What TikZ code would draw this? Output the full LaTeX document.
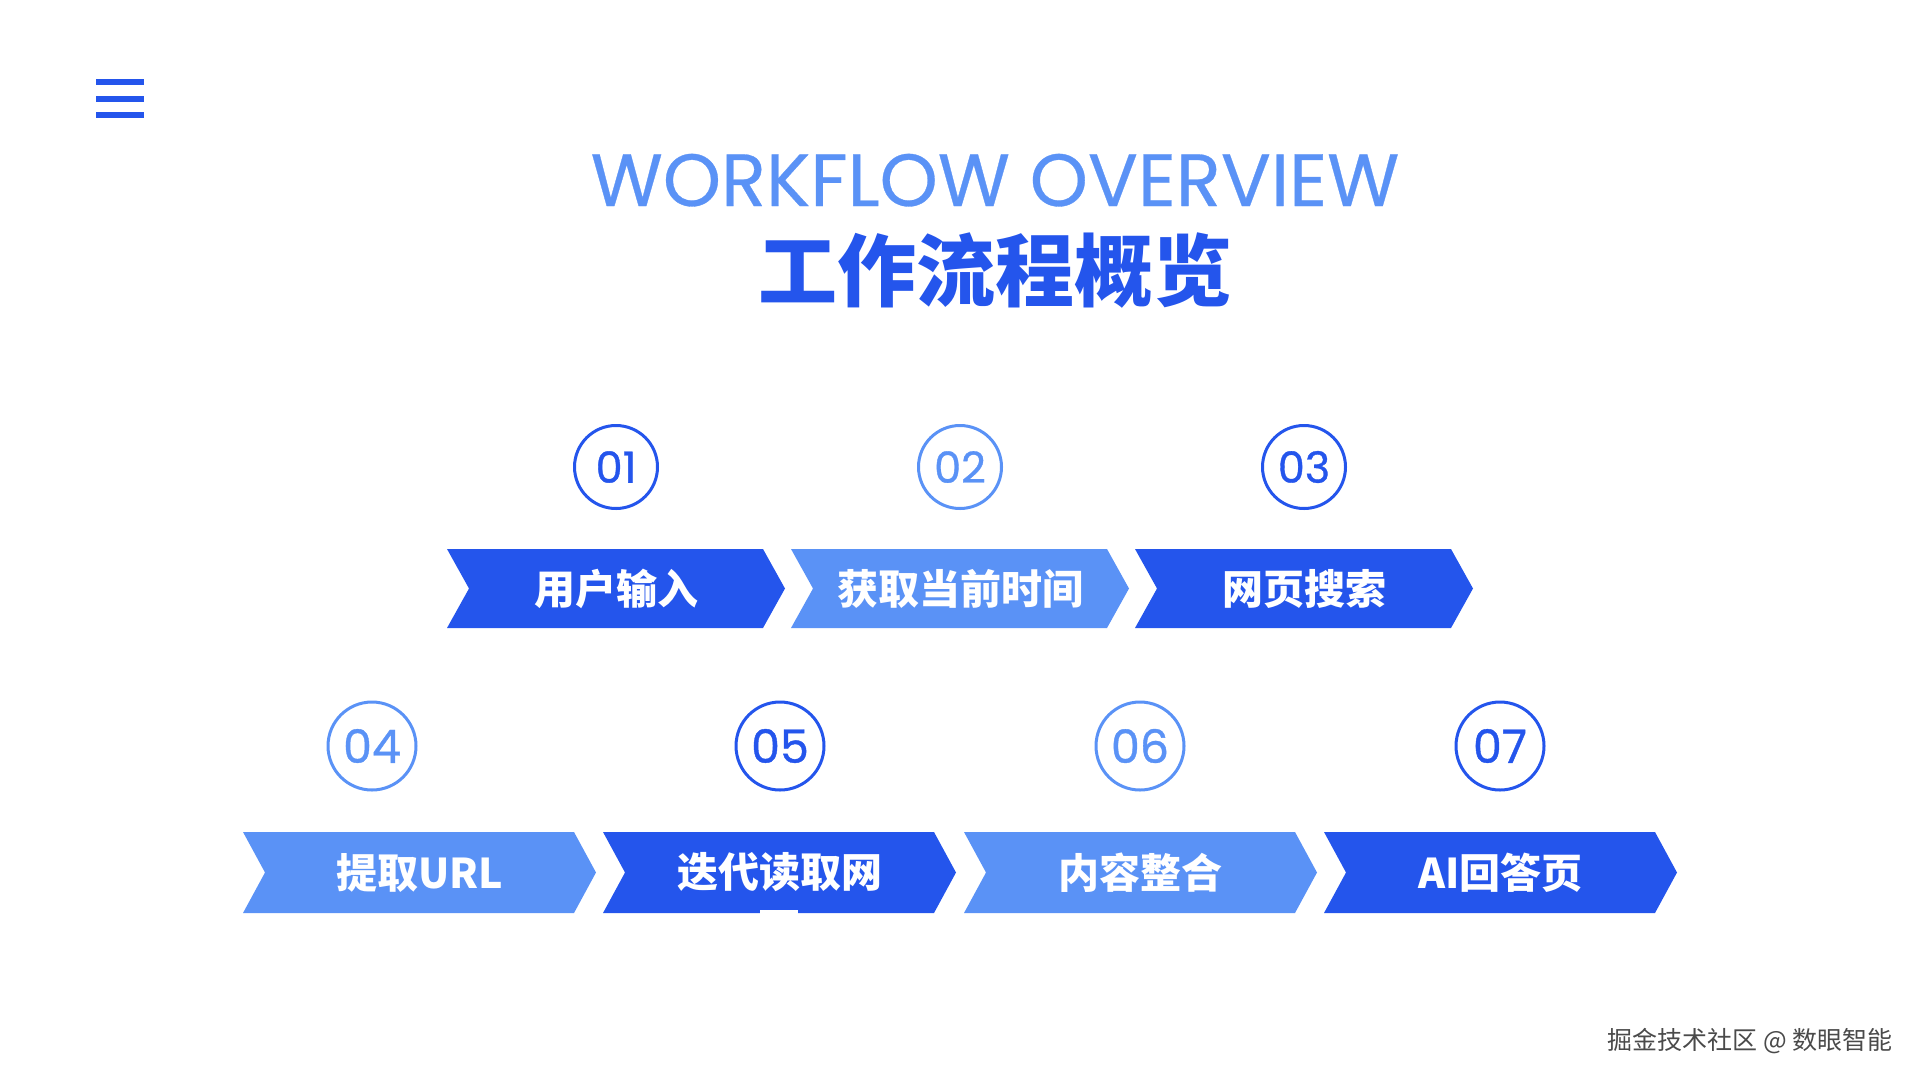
\documentclass[tikz,border=0pt]{standalone}
\usepackage{fontspec}
\setmainfont{Poppins}
\newfontfamily\cjk{Noto Sans CJK SC}
\usepackage{tikz}

\definecolor{deepblue}{HTML}{2455EC}
\definecolor{paleblue}{HTML}{5A92F6}
\definecolor{markgray}{HTML}{4A4A4A}

\tikzset{
  numring/.style={circle, draw=#1, line width=3pt, inner sep=0pt, text=#1},
  steplabel/.style={text=white, inner sep=0pt, font=\cjk\bfseries\fontsize{41}{41}\selectfont},
}

% fletxa: nom, x centre, y centre, amplada, alcada, color, text
\newcommand{\chev}[7]{%
  \fill[#6] ({#2-#4/2},{#3-#5/2}) -- ({#2+#4/2-22},{#3-#5/2}) -- ({#2+#4/2},#3)
    -- ({#2+#4/2-22},{#3+#5/2}) -- ({#2-#4/2},{#3+#5/2}) -- ({#2-#4/2+22},#3) -- cycle;
  \node[steplabel] (#1) at (#2,#3) {#7};}

\begin{document}
\begin{tikzpicture}[x=1pt,y=-1pt]
  \useasboundingbox (0,0) rectangle (1920,1080);
  % Menu
  \foreach \yy in {82,99,115}
    \fill[deepblue] (96,{\yy-3}) rectangle (144,{\yy+3});
  % Titols
  \node[anchor=base, text=paleblue, font=\addfontfeature{FakeBold=0.4}\fontsize{74}{74}\selectfont] (entitle) at (995,206) {WORKFLOW OVERVIEW};
  \node[anchor=base, text=deepblue, font=\cjk\bfseries\fontsize{79}{79}\selectfont] (zhtitle) at (995,300) {工作流程概览};
  % Fila 1
  \node[numring=deepblue, minimum size=83pt, font=\addfontfeature{FakeBold=0.8}\fontsize{43}{43}\selectfont] (n1) at (616,467) {01};
  \node[numring=paleblue, minimum size=83pt, font=\addfontfeature{FakeBold=0.8}\fontsize{43}{43}\selectfont] (n2) at (960,467) {02};
  \node[numring=deepblue, minimum size=83pt, font=\addfontfeature{FakeBold=0.8}\fontsize{43}{43}\selectfont] (n3) at (1304,467) {03};
  \chev{s1}{616}{588.5}{338}{79}{deepblue}{用户输入}
  \chev{s2}{960}{588.5}{338}{79}{paleblue}{获取当前时间}
  \chev{s3}{1304}{588.5}{338}{79}{deepblue}{网页搜索}
  % Fila 2
  \node[numring=paleblue, minimum size=88pt, font=\addfontfeature{FakeBold=0.8}\fontsize{46}{46}\selectfont] (n4) at (372,746) {04};
  \node[numring=deepblue, minimum size=88pt, font=\addfontfeature{FakeBold=0.8}\fontsize{46}{46}\selectfont] (n5) at (780,746) {05};
  \node[numring=paleblue, minimum size=88pt, font=\addfontfeature{FakeBold=0.8}\fontsize{46}{46}\selectfont] (n6) at (1140,746) {06};
  \node[numring=deepblue, minimum size=88pt, font=\addfontfeature{FakeBold=0.8}\fontsize{46}{46}\selectfont] (n7) at (1500,746) {07};
  \chev{s4}{419.5}{872.5}{353}{81}{paleblue}{提取URL}
  \chev{s5}{779.5}{872.5}{353}{81}{deepblue}{迭代读取网}
  \chev{s6}{1140.5}{872.5}{353}{81}{paleblue}{内容整合}
  \chev{s7}{1500.5}{872.5}{353}{81}{deepblue}{AI回答页}
  \fill[white] (760,910) rectangle (798,915);
  % Marca d'aigua
  \node[anchor=base east, text=markgray, font=\cjk\fontsize{25}{25}\selectfont] (credit) at (1896,1049) {掘金技术社区 @ 数眼智能};
\end{tikzpicture}
\end{document}
